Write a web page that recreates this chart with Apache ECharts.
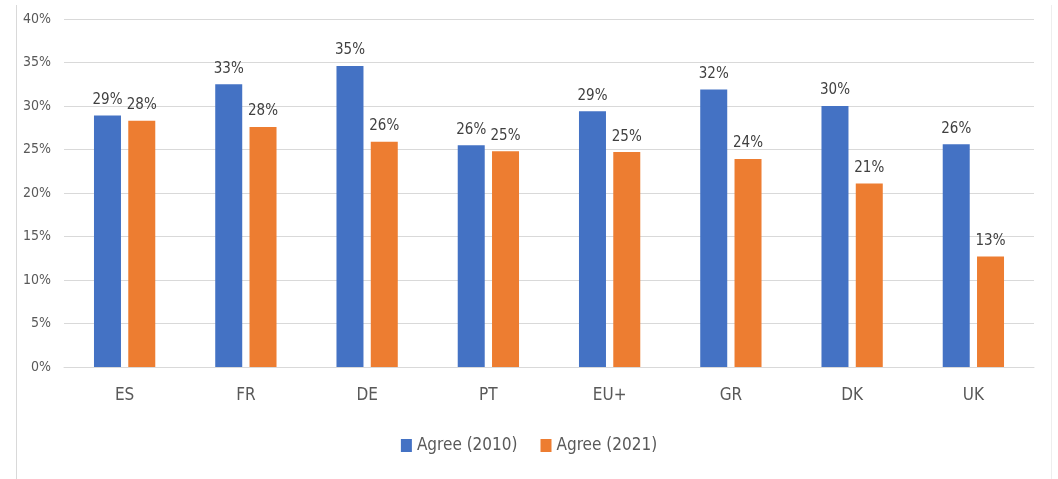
<!DOCTYPE html>
<html>
<head>
<meta charset="utf-8">
<script src="https://cdn.jsdelivr.net/npm/echarts@6/dist/echarts.min.js"></script>
<style>
  html, body { margin: 0; padding: 0; background: #fff; }
  #chart { width: 1058px; height: 479px; }
</style>
</head>
<body>
<div id="chart"></div>
<script>
// data (percent)
var countries = ['ES', 'FR', 'DE', 'PT', 'EU+', 'GR', 'DK', 'UK'];
var agree2010 = [28.9, 32.5, 34.6, 25.5, 29.4, 31.9, 30.0, 25.6];
var agree2021 = [28.3, 27.6, 25.9, 24.8, 24.7, 23.9, 21.1, 12.7];
var yTicks = [0, 5, 10, 15, 20, 25, 30, 35, 40];

var narrow = '"Liberation Sans Narrow", "DejaVu Sans Condensed", "Liberation Sans", sans-serif';

var chart = echarts.init(document.getElementById('chart'));

var labelStyle = {
  show: true,
  position: 'top',
  distance: 8,
  color: '#404040',
  fontFamily: narrow,
  fontSize: 15,
  formatter: function (p) { return Math.round(p.value) + '%'; }
};

chart.setOption({
  animation: false,
  textStyle: { fontFamily: narrow },
  grid: { left: 64, right: 24, top: 19, bottom: 112 },
  // faint chart-area frame, left and right edges only
  graphic: [
    { type: 'line', shape: { x1: 16.5, y1: 5, x2: 16.5, y2: 479 }, style: { stroke: '#d9d9d9', lineWidth: 1 } },
    { type: 'line', shape: { x1: 1051.5, y1: 5, x2: 1051.5, y2: 479 }, style: { stroke: '#eeeeee', lineWidth: 1 } }
  ],
  legend: {
    bottom: 20,
    left: 'center',
    itemWidth: 11,
    itemHeight: 13,
    itemGap: 23,
    icon: 'rect',
    textStyle: { color: '#595959', fontSize: 17, fontFamily: narrow },
    data: ['Agree (2010)', 'Agree (2021)']
  },
  xAxis: {
    type: 'category',
    data: countries,
    axisTick: { show: false },
    axisLine: { lineStyle: { color: '#d9d9d9', width: 1 } },
    axisLabel: { color: '#595959', fontSize: 17, fontFamily: narrow, margin: 20 }
  },
  yAxis: {
    type: 'value',
    min: yTicks[0],
    max: yTicks[yTicks.length - 1],
    interval: 5,
    axisLine: { show: false },
    axisTick: { show: false },
    splitLine: { lineStyle: { color: '#d9d9d9', width: 1 } },
    axisLabel: { color: '#595959', fontSize: 14, fontFamily: narrow, margin: 13, formatter: '{value}%' }
  },
  series: [
    {
      name: 'Agree (2010)',
      type: 'bar',
      data: agree2010,
      barWidth: 27,
      barGap: '27%',
      itemStyle: { color: '#4472C4' },
      label: labelStyle
    },
    {
      name: 'Agree (2021)',
      type: 'bar',
      data: agree2021,
      barWidth: 27,
      itemStyle: { color: '#ED7D31' },
      label: labelStyle
    }
  ]
});
</script>
</body>
</html>
